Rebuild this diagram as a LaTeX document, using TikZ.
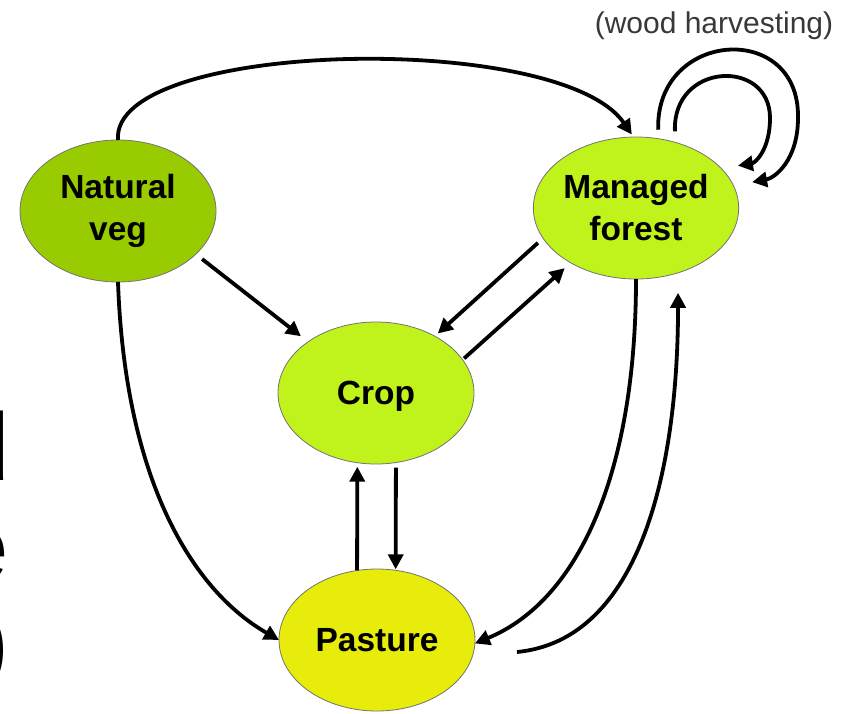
\documentclass[tikz,border=0pt]{standalone}
\usepackage{fontspec}
\setmainfont{Liberation Sans}
\usetikzlibrary{shapes.geometric,arrows.meta}
\definecolor{natcol}{RGB}{153,204,0}
\definecolor{limecol}{RGB}{192,243,28}
\definecolor{pastcol}{RGB}{231,236,10}
\begin{document}
\begin{tikzpicture}[x=1pt,y=-1pt,
  state/.style={ellipse, draw=black!55, line width=0.8pt, minimum width=196pt, minimum height=142pt,
    inner sep=0pt, outer sep=0pt, font=\bfseries\fontsize{33.5}{42}\selectfont, align=center},
  arr/.style={line width=3.8pt, -{Triangle[length=15pt,width=15pt]}},
  frag/.style={font=\fontsize{96}{96}\selectfont, anchor=base east, inner sep=0pt}]
\path[use as bounding box] (0,0) rectangle (852,713);
\clip (0,0) rectangle (852,713);

% cut-off text at the left edge
\node[frag] (f1) at (10,480) {d};
\node[frag] (f2) at (9,580) {e};
\node[frag] (f3) at (10,675) {)};

\node[state, fill=natcol] (NV) at (118,211) {Natural\\veg};
\node[state, fill=limecol] (MF) at (636,208) {Managed\\forest};
\node[state, fill=limecol, text depth=0pt] (CR) at (376,393) {Crop};
\node[state, fill=pastcol] (PA) at (377,640) {Pasture};

\node[font=\fontsize{30}{36}\selectfont, text=black!78, anchor=base, inner sep=0pt] (wh) at (714,33) {(wood harvesting)};

\coordinate (p0) at (517,652);

% connectors
\draw[arr, shorten >=3pt] (NV.north) .. controls (110,40) and (560,30) .. (MF.92);
\draw[arr, shorten <=8pt, shorten >=9pt] (NV.-29) -- (CR.143);
\draw[arr, shorten <=7pt, shorten >=4pt] (MF.198) -- (CR.44.5);
\draw[arr, shorten <=2pt, shorten >=8pt] (CR.21.5) -- (MF.220.5);
\draw[arr, shorten >=4pt] (PA.106) -- (CR.255);
\draw[arr, shorten <=5pt, shorten >=1pt] (CR.286) -- (PA.75);
\draw[arr] (NV.south) .. controls (125,480) and (192,590) .. (PA.west);
\draw[arr] (MF.south) .. controls (636,470) and (580,600) .. (PA.358);
\draw[arr, shorten >=20pt] (p0) .. controls (640,640) and (678,470) .. (MF.-57.6);

% self loops (wood harvesting)
\draw[arr, shorten <=9pt, shorten >=19pt] (MF.72) .. controls (655,30) and (800,20) .. (798,118)
  .. controls (798,160) and (775,178) .. (MF.13);
\draw[arr, shorten <=11pt, shorten >=17pt] (MF.59) .. controls (672,62) and (770,58) .. (770,118)
  .. controls (770,150) and (755,163) .. (MF.25);
\end{tikzpicture}
\end{document}
